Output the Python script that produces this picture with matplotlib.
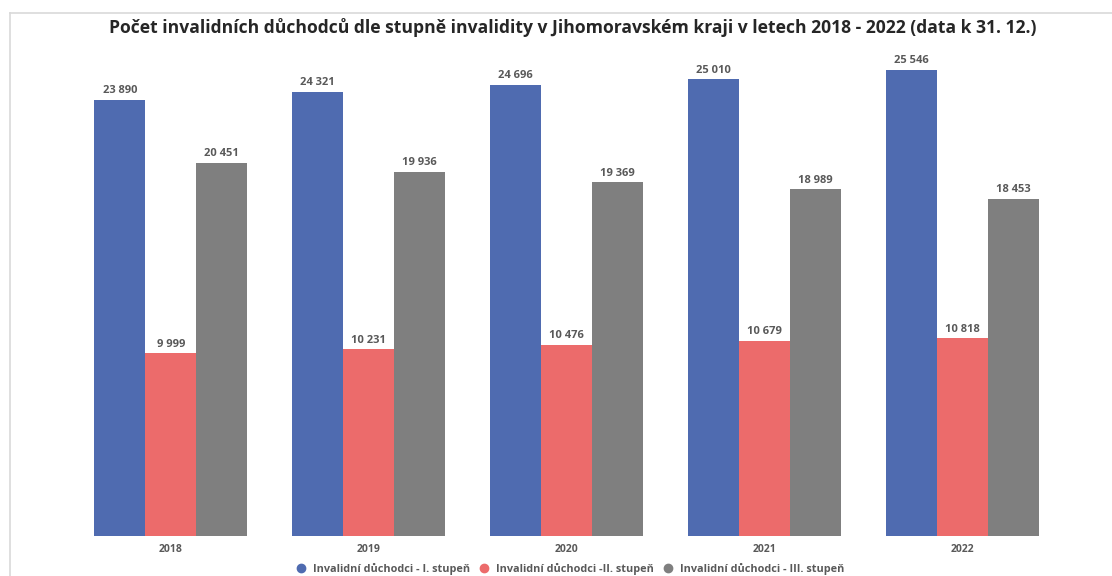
import matplotlib
matplotlib.use('Agg')
import matplotlib.pyplot as plt
from matplotlib.lines import Line2D
import numpy as np

years = ['2018', '2019', '2020', '2021', '2022']
stupen_1 = [23890, 24321, 24696, 25010, 25546]
stupen_2 = [9999, 10231, 10476, 10679, 10818]
stupen_3 = [20451, 19936, 19369, 18989, 18453]
series_names = ['Invalidní důchodci - I. stupeň', 'Invalidní důchodci -II. stupeň',
                'Invalidní důchodci - III. stupeň']

COLORS = ['#4f6bb0', '#ec6b6b', '#7f7f7f']
TXT = '#595959'
plt.rcParams['font.family'] = ['Open Sans', 'DejaVu Sans']

fig = plt.figure(figsize=(11.12, 5.76), dpi=100)
ax = fig.add_axes([0.0647, 0.0694, 0.8894, 0.856])

x = np.arange(len(years))
w = 0.258
for i, (vals, col) in enumerate(zip([stupen_1, stupen_2, stupen_3], COLORS)):
    bars = ax.bar(x + (i - 1) * w, vals, w, color=col, label=series_names[i])
    for b, v in zip(bars, vals):
        ax.text(b.get_x() + b.get_width() / 2, v + 200, f'{v:,}'.replace(',', ' '),
                ha='center', va='bottom', fontsize=8, fontweight='bold', color=TXT)

ax.set_xlim(-0.5, 4.5)
ax.set_ylim(0, 27000)
ax.set_xticks(x)
ax.set_xticklabels(years, fontsize=7.5, fontweight='bold', color=TXT)
ax.tick_params(axis='x', length=0, pad=6)
ax.set_yticks([])
for s in ax.spines.values():
    s.set_visible(False)

fig.text(0.515, 0.953, 'Počet invalidních důchodců dle stupně invalidity v Jihomoravském kraji v letech 2018 - 2022 (data k 31. 12.)',
         ha='center', va='center', fontsize=12.6, fontweight='bold', color='#262626')

handles = [Line2D([], [], marker='o', ls='', color=c, markersize=6) for c in COLORS]
fig.legend(handles, series_names, loc='center', bbox_to_anchor=(0.510, 0.012), ncol=3,
           frameon=False, handletextpad=0.05, columnspacing=0.35,
           prop={'weight': 'bold', 'size': 7.8}, labelcolor=TXT)

# chart area border (top and left edges visible)
fig.add_artist(Line2D([10 / 1112, 1.0], [1 - 13 / 576, 1 - 13 / 576], color='#d9d9d9', lw=1.2))
fig.add_artist(Line2D([10 / 1112, 10 / 1112], [0, 1 - 13 / 576], color='#d9d9d9', lw=1.2))

fig.savefig('out.png', dpi=100, facecolor='white')
